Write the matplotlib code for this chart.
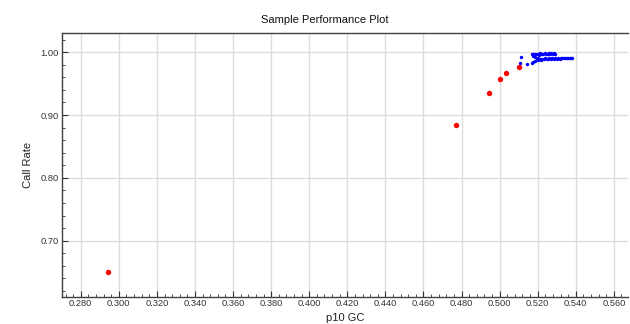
import matplotlib
matplotlib.use("Agg")
import matplotlib.pyplot as plt
from matplotlib.ticker import MultipleLocator, FormatStrFormatter, AutoMinorLocator

plt.rcParams['font.family'] = ['Liberation Sans', 'DejaVu Sans']

# Red (failed) samples
red_x = [0.2943, 0.4773, 0.4943, 0.5004, 0.5034, 0.5102]
red_y = [0.6500, 0.8842, 0.9347, 0.9570, 0.9666, 0.9761]

# Blue (passed) samples
blue_x = [0.5168, 0.5175, 0.5182, 0.5188, 0.5195, 0.5200, 0.5206, 0.5212, 0.5218, 0.5224,
          0.5230, 0.5236, 0.5242, 0.5248, 0.5254, 0.5260, 0.5266, 0.5272, 0.5278, 0.5284, 0.5290,
          0.5195, 0.5202, 0.5210, 0.5218, 0.5225, 0.5232, 0.5240, 0.5247, 0.5255, 0.5262,
          0.5270, 0.5277, 0.5285, 0.5292, 0.5300, 0.5308, 0.5315, 0.5322, 0.5330, 0.5338,
          0.5345, 0.5352, 0.5360, 0.5368, 0.5375, 0.5382,
          0.5112, 0.5109, 0.5146, 0.5170, 0.5175, 0.5185, 0.5200, 0.5178, 0.5188]
blue_y = [0.9965, 0.9972, 0.9960, 0.9978, 0.9968, 0.9975, 0.9962, 0.9980, 0.9970, 0.9976,
          0.9966, 0.9982, 0.9972, 0.9978, 0.9968, 0.9985, 0.9975, 0.9980, 0.9972, 0.9984, 0.9978,
          0.9885, 0.9905, 0.9892, 0.9880, 0.9898, 0.9888, 0.9902, 0.9893, 0.9885, 0.9908,
          0.9895, 0.9900, 0.9890, 0.9910, 0.9898, 0.9905, 0.9893, 0.9908, 0.9900, 0.9905,
          0.9912, 0.9903, 0.9908, 0.9910, 0.9905, 0.9908,
          0.9920, 0.9825, 0.9810, 0.9825, 0.9840, 0.9860, 0.9870, 0.9935, 0.9920]

fig = plt.figure(figsize=(6.30, 3.24), dpi=100)
ax = fig.add_axes([0.098, 0.0843, 0.899, 0.8130])

ax.scatter(blue_x, blue_y, s=6, color='#0000ff', linewidths=0, zorder=3)
ax.scatter(red_x, red_y, s=15, color='#ff0000', linewidths=0, zorder=4)

ax.set_xlim(0.270, 0.5675)
ax.set_ylim(0.611, 1.030)
ax.xaxis.set_major_locator(MultipleLocator(0.02))
ax.xaxis.set_major_formatter(FormatStrFormatter('%.3f'))
ax.xaxis.set_minor_locator(AutoMinorLocator(5))
ax.yaxis.set_major_locator(MultipleLocator(0.1))
ax.yaxis.set_major_formatter(FormatStrFormatter('%.2f'))
ax.yaxis.set_minor_locator(AutoMinorLocator(5))

ax.grid(True, which='major', color='#dcdcdc', linewidth=1.0, zorder=0)
ax.set_axisbelow(True)
ax.tick_params(which='major', direction='in', length=4, width=0.8, labelsize=6.7,
               colors='#333333', pad=2)
ax.tick_params(which='minor', direction='in', length=2, width=0.6, colors='#333333')

for side in ['left', 'bottom', 'top']:
    ax.spines[side].set_color('#404040')
    ax.spines[side].set_linewidth(1.0)
ax.spines['right'].set_visible(False)

fig.text(325 / 630, 1 - 20 / 324, 'Sample Performance Plot', fontsize=8, color='#111111',
         ha='center', va='center')
ax.set_xlabel('p10 GC', fontsize=8, color='#222222', labelpad=3)
ax.set_ylabel('Call Rate', fontsize=8, color='#222222', labelpad=5.5)

fig.savefig('out.png', dpi=100)
